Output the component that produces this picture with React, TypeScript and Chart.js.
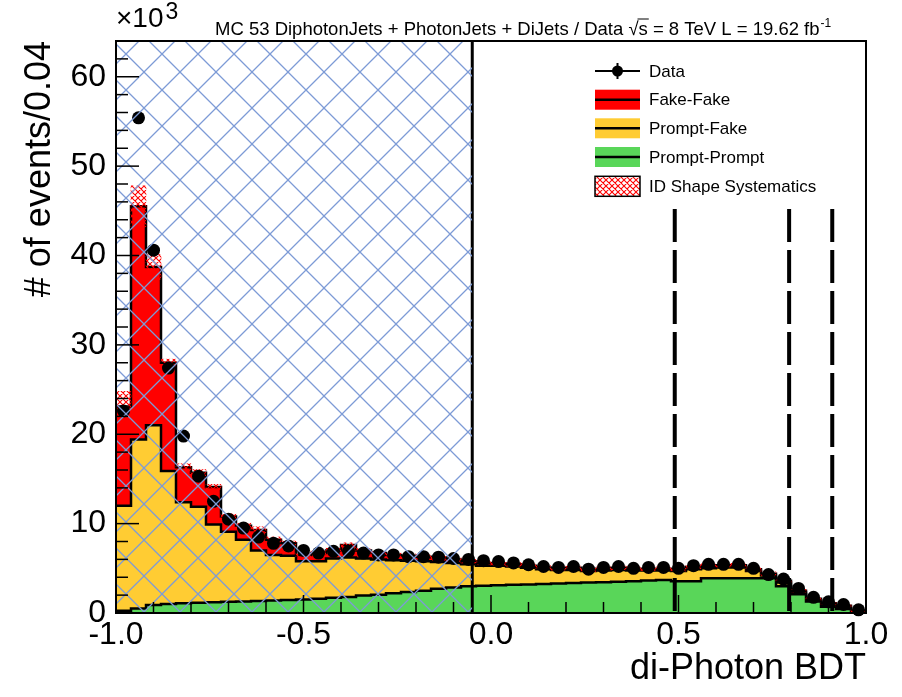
import React, { useEffect, useRef } from "react";
import { Chart, registerables } from "chart.js";

Chart.register(...registerables);

// ---------- data (values in units of 10^3 events per 0.04 bin) ----------
const binLowEdges = [
  -1.0, -0.96, -0.92, -0.88, -0.84, -0.8, -0.76, -0.72, -0.68, -0.64,
  -0.6, -0.56, -0.52, -0.48, -0.44, -0.4, -0.36, -0.32, -0.28, -0.24,
  -0.2, -0.16, -0.12, -0.08, -0.04, 0.0, 0.04, 0.08, 0.12, 0.16,
  0.2, 0.24, 0.28, 0.32, 0.36, 0.4, 0.44, 0.48, 0.52, 0.56,
  0.6, 0.64, 0.68, 0.72, 0.76, 0.8, 0.84, 0.88, 0.92, 0.96,
];
const binWidth = 0.04;

const promptPrompt = [
  0.25, 0.5, 0.9, 1.0, 1.1, 1.15, 1.2, 1.25, 1.3, 1.35,
  1.4, 1.45, 1.5, 1.6, 1.7, 1.8, 1.95, 2.05, 2.2, 2.35,
  2.5, 2.7, 2.85, 3.0, 3.05, 3.1, 3.15, 3.2, 3.25, 3.3,
  3.35, 3.4, 3.45, 3.5, 3.55, 3.65, 3.7, 3.55, 3.55, 3.9,
  3.9, 3.9, 3.9, 3.9, 3.0, 2.1, 1.3, 0.7, 0.45, 0.05,
];
const promptFake = [
  11.75, 18.9, 20.1, 14.9, 11.3, 10.75, 8.7, 7.85, 6.9, 5.65,
  5.1, 4.95, 4.3, 4.2, 4.4, 4.4, 4.15, 3.95, 3.7, 3.5,
  3.3, 3.0, 2.75, 2.45, 2.25, 2.2, 2.05, 1.85, 1.65, 1.5,
  1.45, 1.3, 1.3, 1.3, 1.2, 1.1, 1.05, 1.15, 1.35, 1.1,
  1.2, 1.2, 0.8, 0.3, 0.4, 0.2, 0.15, 0.2, 0.15, 0.05,
];
const fakeFake = [
  11.1, 26.1, 17.7, 12.1, 3.9, 3.8, 4.2, 1.7, 1.55, 2.3,
  1.7, 1.4, 0.7, 0.9, 0.9, 1.4, 0.9, 0.7, 0.6, 0.55,
  0.5, 0.5, 0.4, 0.35, 0.3, 0.25, 0.25, 0.25, 0.2, 0.2,
  0.25, 0.15, 0.2, 0.25, 0.2, 0.2, 0.2, 0.2, 0.25, 0.3,
  0.25, 0.25, 0.2, 0.2, 0.2, 0.2, 0.15, 0.2, 0.2, 0.15,
];
const dataCounts = [
  22.6, 55.4, 40.6, 27.4, 19.8, 15.3, 12.5, 10.5, 9.5, 8.5,
  7.8, 7.5, 7.0, 6.7, 6.9, 6.9, 6.7, 6.5, 6.5, 6.3,
  6.3, 6.25, 6.1, 6.0, 5.85, 5.75, 5.6, 5.4, 5.2, 5.1,
  5.2, 4.9, 5.1, 5.2, 5.0, 5.1, 5.1, 5.0, 5.3, 5.45,
  5.45, 5.45, 5.0, 4.3, 3.8, 2.75, 1.75, 1.25, 0.95, 0.35,
];
const shapeSyst = [
  1.7, 2.3, 1.4, 0.4, 0.4, 0.35, 0.3, 0.3, 0.3, 0.35,
  0.3, 0.25, 0.3, 0.25, 0.25, 0.25, 0.2, 0.2, 0.2, 0.2,
  0.2, 0.2, 0.2, 0.2, 0.2, 0.2, 0.2, 0.2, 0.2, 0.2,
  0.2, 0.2, 0.2, 0.2, 0.2, 0.2, 0.2, 0.2, 0.2, 0.2,
  0.2, 0.2, 0.2, 0.2, 0.15, 0.15, 0.15, 0.1, 0.1, 0.1,
];

const xTickValues = [-1, -0.5, 0, 0.5, 1];
const xTickLabels = ["-1.0", "-0.5", "0.0", "0.5", "1.0"];
const xMinorStep = 0.1;
const yTickValues = [0, 10, 20, 30, 40, 50, 60];
const yTickLabels = ["0", "10", "20", "30", "40", "50", "60"];
const yMinorStep = 2;
const yMax = 64;

const blindedRegionEnd = -0.05;
const categoryCuts = [0.49, 0.795, 0.91];
const cutLineTop = 45.2;

const titleMain = "MC 53 DiphotonJets + PhotonJets + DiJets / Data ";
const titleTail = " = 8 TeV L = 19.62 fb";

const RED = "#ff0000";
const YELLOW = "#ffcc33";
const GREEN = "#59d659";
const FONT = "'Liberation Sans', Arial, Helvetica, sans-serif";

function crossHatch(size: number, color: string, lw: number) {
  const c = document.createElement("canvas");
  c.width = size;
  c.height = size;
  const g = c.getContext("2d")!;
  g.strokeStyle = color;
  g.lineWidth = lw;
  g.beginPath();
  for (const dx of [-size, 0, size]) {
    g.moveTo(dx, 0);
    g.lineTo(dx + size, size);
    g.moveTo(dx, size);
    g.lineTo(dx + size, 0);
  }
  g.stroke();
  return g.createPattern(c, "repeat")!;
}

export default function App() {
  const ref = useRef<HTMLCanvasElement | null>(null);

  useEffect(() => {
    const canvas = ref.current!;
    const bluePattern = crossHatch(36, "#7d9bd6", 1.3);
    const redPattern = crossHatch(6, RED, 1.1);

    const cumPP = promptPrompt.slice();
    const cumPF = promptPrompt.map((v, i) => v + promptFake[i]);
    const cumFF = cumPF.map((v, i) => v + fakeFake[i]);
    const steps = (vals: number[]) => [
      ...vals.map((v, i) => ({ x: binLowEdges[i], y: v })),
      { x: binLowEdges[binLowEdges.length - 1] + binWidth, y: vals[vals.length - 1] },
    ];
    const centers = binLowEdges.map((e) => e + binWidth / 2);

    const histStyle = {
      type: "line" as const,
      stepped: true,
      borderColor: "#000",
      borderWidth: 2.5,
      pointRadius: 0,
    };

    const datasets: any[] = [
      { ...histStyle, label: "Prompt-Prompt", data: steps(cumPP), backgroundColor: GREEN, fill: "origin", order: 3 },
      { ...histStyle, label: "Prompt-Fake", data: steps(cumPF), backgroundColor: YELLOW, fill: "-1", order: 4 },
      { ...histStyle, label: "Fake-Fake", data: steps(cumFF), backgroundColor: RED, fill: "-1", order: 5 },
      {
        type: "bar",
        label: "ID Shape Systematics",
        data: centers.map((x, i) => ({ x, y: [cumFF[i] - shapeSyst[i], cumFF[i] + shapeSyst[i]] })),
        backgroundColor: redPattern,
        borderWidth: 0,
        barPercentage: 1,
        categoryPercentage: 1,
        order: 2,
      },
      {
        type: "line",
        label: "Data",
        data: centers.map((x, i) => ({ x, y: dataCounts[i] })),
        showLine: false,
        pointRadius: 6.5,
        pointBackgroundColor: "#000",
        pointBorderWidth: 0,
        clip: false,
        order: 1,
      },
      {
        type: "line",
        label: "blinded",
        data: [
          { x: -1, y: yMax },
          { x: blindedRegionEnd, y: yMax },
        ],
        fill: "origin",
        backgroundColor: bluePattern,
        borderWidth: 0,
        pointRadius: 0,
        order: 0,
      },
      {
        type: "line",
        label: "blind edge",
        data: [
          { x: blindedRegionEnd, y: yMax },
          { x: blindedRegionEnd, y: 0 },
        ],
        borderColor: "#000",
        borderWidth: 3,
        pointRadius: 0,
        fill: false,
        order: 0,
      },
      ...categoryCuts.map((c) => ({
        type: "line",
        label: "cut",
        data: [
          { x: c, y: cutLineTop },
          { x: c, y: 0 },
        ],
        borderColor: "#000",
        borderWidth: 4,
        borderDash: [33, 8],
        pointRadius: 0,
        fill: false,
        order: 0,
      })),
    ];

    const decor = {
      id: "rootDecor",
      afterDraw(chart: any) {
        const { ctx, chartArea: a, scales } = chart;
        const xs = scales.x;
        const ys = scales.y;
        const seg = (x1: number, y1: number, x2: number, y2: number) => {
          ctx.beginPath();
          ctx.moveTo(x1, y1);
          ctx.lineTo(x2, y2);
          ctx.stroke();
        };
        ctx.save();
        ctx.strokeStyle = "#000";
        ctx.setLineDash([]);
        // inward ticks
        ctx.lineWidth = 1.5;
        for (let v = 0; v <= yMax + 1e-9; v += yMinorStep) {
          const py = ys.getPixelForValue(v);
          const major = yTickValues.includes(Math.round(v));
          seg(a.left, py, a.left + (major ? 23 : 12), py);
        }
        for (let k = 0; k <= Math.round(2 / xMinorStep); k++) {
          const v = -1 + k * xMinorStep;
          const px = xs.getPixelForValue(v);
          const major = xTickValues.some((t) => Math.abs(t - v) < 1e-6);
          seg(px, a.bottom, px, a.bottom - (major ? 18 : 11));
        }
        // frame
        ctx.lineWidth = 2;
        ctx.strokeRect(a.left, a.top, a.right - a.left, a.bottom - a.top);

        // x10^3
        ctx.fillStyle = "#000";
        ctx.textBaseline = "alphabetic";
        ctx.textAlign = "left";
        ctx.font = `28px ${FONT}`;
        ctx.fillText("×10", 116, 27);
        const w10 = ctx.measureText("×10").width;
        ctx.font = `23px ${FONT}`;
        ctx.fillText("3", 116 + w10 + 2, 19);

        // title
        ctx.font = `18.5px ${FONT}`;
        let tx = 215;
        const by = 35;
        ctx.fillText(titleMain, tx, by);
        tx += ctx.measureText(titleMain).width;
        ctx.fillText("√", tx, by);
        const sx = tx + ctx.measureText("√").width;
        ctx.fillText("s", sx, by);
        const ws = ctx.measureText("s").width;
        ctx.lineWidth = 1;
        seg(sx - 1, by - 16, sx + ws + 1, by - 16);
        tx = sx + ws;
        ctx.fillText(titleTail, tx, by);
        tx += ctx.measureText(titleTail).width;
        ctx.font = `12px ${FONT}`;
        ctx.fillText("-1", tx + 1, by - 8);

        // legend
        const lx = 595;
        const lw = 45;
        const tX = 649;
        const rows = [71, 99.7, 128.3, 157, 186.3];
        ctx.font = `17px ${FONT}`;
        ctx.textBaseline = "middle";
        // Data
        ctx.lineWidth = 2;
        seg(lx, rows[0], lx + lw, rows[0]);
        seg(lx + lw / 2, rows[0] - 8, lx + lw / 2, rows[0] + 8);
        ctx.beginPath();
        ctx.arc(lx + lw / 2, rows[0], 5.5, 0, Math.PI * 2);
        ctx.fill();
        ctx.fillText("Data", tX, rows[0] + 1);
        const boxes: [string, string][] = [
          [RED, "Fake-Fake"],
          [YELLOW, "Prompt-Fake"],
          [GREEN, "Prompt-Prompt"],
        ];
        boxes.forEach(([col, lab], i) => {
          const cy = rows[i + 1];
          ctx.fillStyle = col;
          ctx.fillRect(lx, cy - 10, lw, 20);
          ctx.lineWidth = 2.5;
          seg(lx, cy, lx + lw, cy);
          ctx.fillStyle = "#000";
          ctx.fillText(lab, tX, cy + 1);
        });
        const cy = rows[4];
        ctx.fillStyle = "#fff";
        ctx.fillRect(lx, cy - 10, lw, 20);
        ctx.fillStyle = redPattern;
        ctx.fillRect(lx, cy - 10, lw, 20);
        ctx.lineWidth = 1.5;
        ctx.strokeRect(lx, cy - 10, lw, 20);
        ctx.fillStyle = "#000";
        ctx.fillText("ID Shape Systematics", tX, cy + 1);
        ctx.restore();
      },
    };

    const chart = new Chart(canvas, {
      type: "line",
      data: { datasets },
      options: {
        responsive: false,
        animation: false,
        devicePixelRatio: 1,
        layout: { padding: { top: 41, right: 36, left: 0, bottom: 0 } },
        plugins: {
          legend: { display: false },
          tooltip: { enabled: false },
          filler: { propagate: false },
        },
        scales: {
          x: {
            type: "linear",
            min: -1,
            max: 1,
            offset: false,
            grid: { display: false, drawTicks: false },
            border: { display: false },
            afterBuildTicks: (s: any) => {
              s.ticks = xTickValues.map((v) => ({ value: v }));
            },
            ticks: {
              autoSkip: false,
              maxRotation: 0,
              minRotation: 0,
              padding: 3,
              color: "#000",
              font: { family: FONT, size: 32 },
              callback: (_v: any, i: number) => xTickLabels[i],
            },
            title: {
              display: true,
              text: "di-Photon BDT",
              align: "end",
              color: "#000",
              font: { family: FONT, size: 36 },
              padding: { top: 0, bottom: 6 },
            },
            afterFit: (s: any) => {
              s.height = 84;
            },
          },
          y: {
            type: "linear",
            min: 0,
            max: yMax,
            grid: { display: false, drawTicks: false },
            border: { display: false },
            afterBuildTicks: (s: any) => {
              s.ticks = yTickValues.map((v) => ({ value: v }));
            },
            ticks: {
              padding: 10,
              color: "#000",
              font: { family: FONT, size: 32 },
              callback: (_v: any, i: number) => yTickLabels[i],
            },
            title: {
              display: true,
              text: "# of events/0.04",
              align: "end",
              color: "#000",
              font: { family: FONT, size: 36 },
              padding: { top: 18, bottom: 0 },
            },
            afterFit: (s: any) => {
              s.width = 116;
            },
          },
        },
      },
      plugins: [decor],
    } as any);

    return () => chart.destroy();
  }, []);

  return (
    <canvas
      ref={ref}
      width={902}
      height={697}
      style={{ position: "absolute", left: 0, top: 0, display: "block" }}
    />
  );
}
